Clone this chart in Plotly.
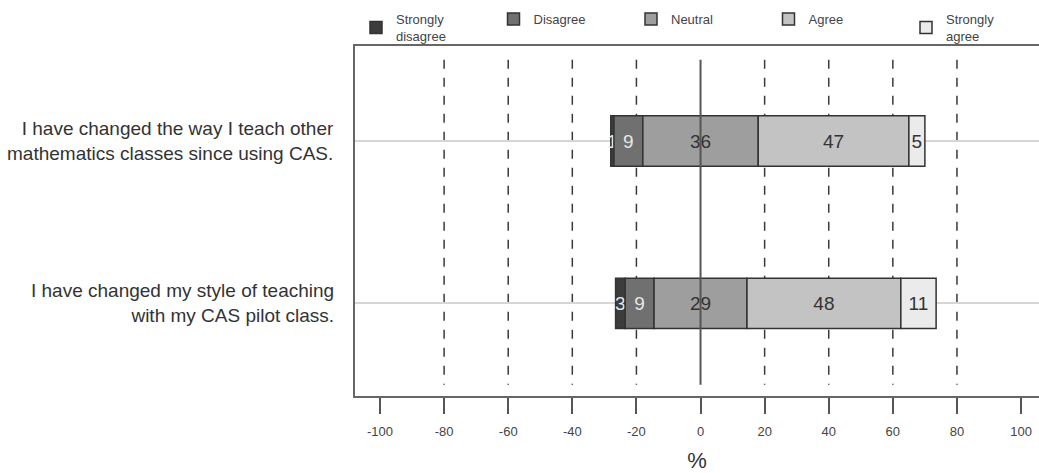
import plotly.graph_objects as go

# ---- data ----
questions = [
    "I have changed the way I teach other<br>mathematics classes since using CAS.",
    "I have changed my style of teaching<br>with my CAS pilot class.",
]
row_pos = [1, 2]
levels = ["Strongly<br>disagree", "Disagree", "Neutral", "Agree", "Strongly<br>agree"]
strongly_disagree = [1, 3]
disagree = [9, 9]
neutral = [36, 29]
agree = [47, 48]
strongly_agree = [5, 11]
x_tick_vals = [-100, -80, -60, -40, -20, 0, 20, 40, 60, 80, 100]
x_tick_text = ["-100", "-80", "-60", "-40", "-20", "0", "20", "40", "60", "80", "100"]

series = [strongly_disagree, disagree, neutral, agree, strongly_agree]
fills = ["#3c3c3c", "#707070", "#9e9e9e", "#c3c3c3", "#ebebeb"]
text_cols = ["#e6e6e6", "#e6e6e6", "#333333", "#333333", "#333333"]
FONT = "Liberation Sans, Arial, sans-serif"

# left start so that neutral is centred on zero
starts = [-(sd + d + n / 2) for sd, d, n in zip(strongly_disagree, disagree, neutral)]

fig = go.Figure()
cum = list(starts)
for name, vals, fc, tc in zip(levels, series, fills, text_cols):
    fig.add_trace(go.Bar(
        y=row_pos, x=vals, base=list(cum), orientation="h", name=name,
        marker=dict(color=fc, line=dict(color="#333333", width=1.5)),
        text=[str(v) for v in vals], textposition="inside", insidetextanchor="middle",
        constraintext="none", textangle=0,
        textfont=dict(size=19, color=tc, family=FONT),
        width=0.31, hoverinfo="skip",
    ))
    cum = [c + v for c, v in zip(cum, vals)]

shapes = []
for v in x_tick_vals:
    if v in (-100, 100):
        continue
    if v == 0:
        shapes.append(dict(type="line", x0=0, x1=0, y0=0.5, y1=2.5, xref="x", yref="y",
                           line=dict(color="#555555", width=2), layer="above"))
    else:
        shapes.append(dict(type="line", x0=v, x1=v, y0=0.5, y1=2.5, xref="x", yref="y",
                           line=dict(color="#3a3a3a", width=1.5, dash="9px,9px"), layer="below"))

annotations = []
for q, p in zip(questions, row_pos):
    annotations.append(dict(text=q, x=0, xref="paper", xshift=-19, xanchor="right",
                            y=p, yref="y", yanchor="middle", align="right", showarrow=False,
                            font=dict(size=19, color="#333333", family=FONT)))

fig.update_layout(
    width=1039, height=473,
    margin=dict(l=355, r=0, t=46, b=77),
    plot_bgcolor="white", paper_bgcolor="white",
    barmode="overlay",
    font=dict(family=FONT, color="#333333"),
    shapes=shapes, annotations=annotations,
    showlegend=True,
    legend=dict(orientation="h", x=-0.0001, xanchor="left", y=1.12, yanchor="top",
                indentation=5,
                entrywidth=87.5, entrywidthmode="pixels", traceorder="normal",
                font=dict(size=13, color="#444444"), bgcolor="rgba(0,0,0,0)"),
    xaxis=dict(range=[-107.8, 105.6], tickvals=x_tick_vals, ticktext=x_tick_text,
               showgrid=False, zeroline=False, showline=True, mirror=True,
               linecolor="#666666", linewidth=2, ticks="outside", ticklen=16, tickwidth=2,
               tickcolor="#555555", tickfont=dict(size=13, color="#444444"),
               ticklabelstandoff=6,
               title=dict(text="%", font=dict(size=22, color="#333333"), standoff=17)),
    yaxis=dict(range=[2.57, 0.415], tickvals=row_pos, showticklabels=False,
               showgrid=True, gridcolor="#d6d6d6", gridwidth=2, zeroline=False,
               showline=True, linecolor="#666666", linewidth=2, ticks=""),
)

fig.write_html("out.html", config={"displayModeBar": False},
               post_script="document.body.style.margin='0';document.body.style.overflow='hidden';")
